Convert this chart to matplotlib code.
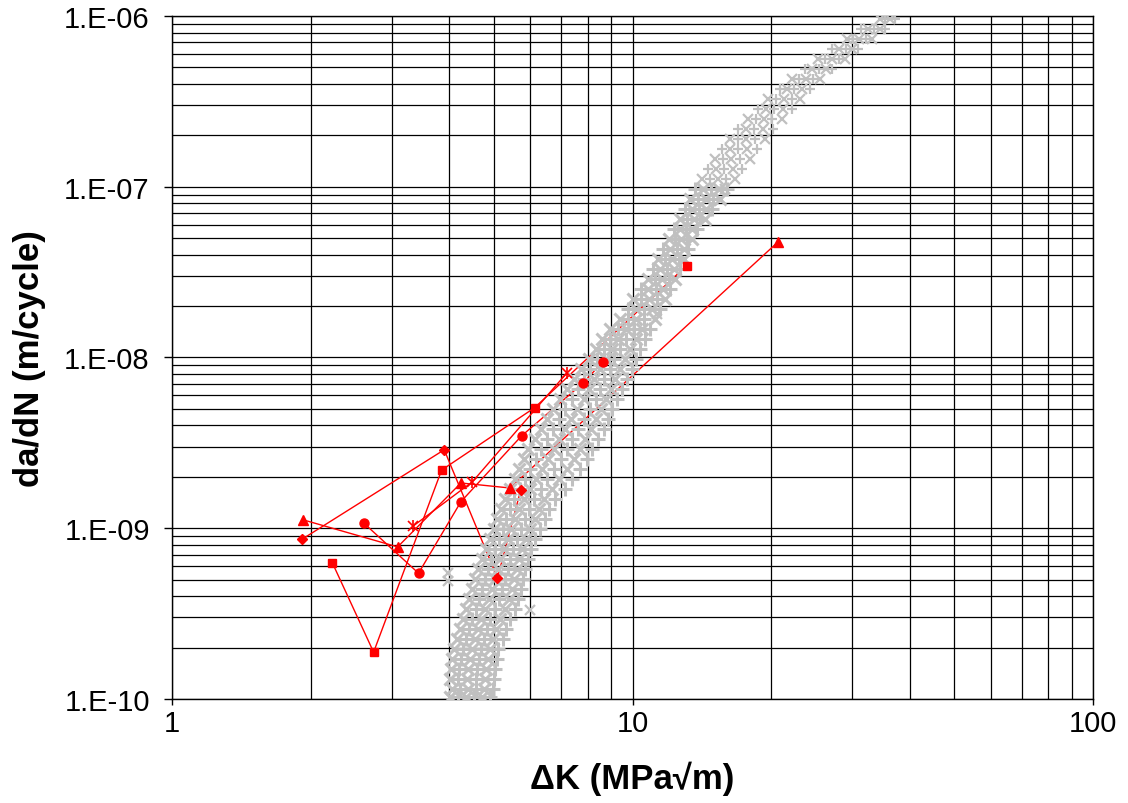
#!/usr/bin/env python3
"""Fatigue crack growth rate: short-crack data (red) against long-crack band (grey)."""

import matplotlib
matplotlib.use('Agg')
import matplotlib.pyplot as plt
from matplotlib.ticker import FixedLocator, FixedFormatter, NullFormatter, LogLocator

plt.rcParams.update({
    'font.family': ['Liberation Sans', 'DejaVu Sans'],
    'font.size': 21,
})

# --- short-crack series (ΔK in MPa√m, da/dN in m/cycle) ---
tri_dk = [1.925, 3.09, 4.24, 5.42, 20.7]
tri_rate = [1.12e-9, 7.77e-10, 1.84e-9, 1.72e-9, 4.75e-8]

circ_dk = [2.61, 3.43, 4.24, 5.74, 7.80, 8.61]
circ_rate = [1.07e-9, 5.45e-10, 1.43e-9, 3.47e-9, 7.06e-9, 9.41e-9]

sq_dk = [2.23, 2.74, 3.85, 6.13, 13.1]
sq_rate = [6.26e-10, 1.88e-10, 2.19e-9, 5.08e-9, 3.45e-8]

dia_dk = [1.92, 3.90, 5.09, 5.72]
dia_rate = [8.65e-10, 2.88e-9, 5.11e-10, 1.68e-9]

star_dk = [3.34, 4.49, 7.20]
star_rate = [1.03e-9, 1.87e-9, 8.11e-9]

# --- long-crack scatter band, read row by row (one da/dN level per row) ---
band_rate = [
    1.03e-10, 1.14e-10, 1.31e-10, 1.50e-10, 1.71e-10, 1.96e-10, 2.25e-10, 2.57e-10,
    2.94e-10, 3.37e-10, 3.85e-10, 4.41e-10, 5.04e-10, 5.77e-10, 6.61e-10, 7.56e-10,
    8.65e-10, 9.90e-10, 1.13e-9, 1.30e-9, 1.48e-9, 1.70e-9, 1.94e-9, 2.22e-9,
    2.54e-9, 2.91e-9, 3.33e-9, 3.81e-9, 4.36e-9, 4.99e-9, 5.71e-9, 6.54e-9,
    7.48e-9, 8.57e-9, 9.80e-9, 1.12e-8, 1.28e-8, 1.47e-8, 1.68e-8, 1.92e-8,
    2.20e-8, 2.52e-8, 2.88e-8, 3.30e-8, 3.77e-8, 4.32e-8, 4.94e-8, 5.66e-8,
    6.47e-8, 7.41e-8, 8.48e-8, 9.70e-8, 1.11e-7, 1.27e-7, 1.45e-7, 1.66e-7,
    1.90e-7, 2.18e-7, 2.49e-7, 2.85e-7, 3.27e-7, 3.74e-7, 4.28e-7, 4.89e-7,
    5.60e-7, 6.41e-7, 7.33e-7, 8.39e-7, 9.60e-7,
]
band_dk = [
    [4.02, 4.18, 4.35, 4.53, 4.72, 4.91],
    [4.06, 4.22, 4.39, 4.57, 4.76, 4.98],
    [4.02, 4.18, 4.37, 4.57, 4.78, 5.00],
    [4.04, 4.20, 4.39, 4.59, 4.81, 5.03],
    [4.06, 4.24, 4.44, 4.64, 4.86, 5.08],
    [4.10, 4.29, 4.48, 4.69, 4.91, 5.10],
    [4.16, 4.35, 4.55, 4.76, 4.98, 5.23],
    [4.22, 4.42, 4.62, 4.83, 5.05, 5.31],
    [4.29, 4.48, 4.69, 4.91, 5.16, 5.42],
    [4.35, 4.57, 4.78, 5.03, 5.29, 5.56],
    [4.42, 4.64, 4.88, 5.13, 5.39, 5.64],
    [4.48, 4.71, 4.95, 5.21, 5.47, 5.73],
    [4.55, 4.78, 5.03, 5.29, 5.53, 5.78],
    [4.62, 4.86, 5.10, 5.37, 5.61, 5.84],
    [4.71, 4.93, 5.16, 5.42, 5.67, 5.93],
    [4.81, 5.03, 5.26, 5.50, 5.76, 6.02],
    [4.91, 5.13, 5.37, 5.61, 5.87, 6.14],
    [5.00, 5.23, 5.45, 5.73, 5.99, 6.30],
    [5.08, 5.31, 5.56, 5.84, 6.14, 6.46],
    [5.18, 5.42, 5.67, 5.96, 6.27, 6.59],
    [5.29, 5.53, 5.81, 6.11, 6.42, 6.79],
    [5.42, 5.70, 5.99, 6.33, 6.69, 7.14],
    [5.56, 5.84, 6.17, 6.52, 6.93, 7.39],
    [5.67, 5.99, 6.36, 6.75, 7.21, 7.69],
    [5.81, 6.17, 6.55, 6.99, 7.46, 7.97],
    [5.93, 6.33, 6.75, 7.21, 7.69, 8.17],
    [6.14, 6.52, 6.93, 7.39, 7.89, 8.41],
    [6.33, 6.72, 7.14, 7.61, 8.12, 8.67],
    [6.52, 6.93, 7.35, 7.85, 8.33, 8.85],
    [6.72, 7.14, 7.57, 8.09, 8.54, 9.03],
    [6.96, 7.39, 7.85, 8.33, 8.76, 9.26],
    [7.21, 7.61, 8.05, 8.50, 8.98, 9.49],
    [7.46, 7.85, 8.25, 8.67, 9.16, 9.73],
    [7.72, 8.09, 8.50, 8.94, 9.39, 9.98],
    [8.05, 8.37, 8.76, 9.12, 9.63, 10.18],
    [8.33, 8.67, 9.03, 9.39, 9.88, 10.38],
    [8.58, 8.94, 9.30, 9.68, 10.18, 10.65],
    [8.94, 9.30, 9.68, 10.08, 10.48, 10.91],
    [9.39, 9.78, 10.18, 10.60, 11.19],
    [9.78, 10.18, 10.60, 11.02, 11.47],
    [10.03, 10.43, 10.86, 11.30, 11.76],
    [10.43, 10.81, 11.24, 11.64, 12.06],
    [10.81, 11.19, 11.58, 12.00, 12.37],
    [11.08, 11.47, 11.88, 12.31, 12.68],
    [11.36, 11.76, 12.18, 12.62, 12.94],
    [11.64, 12.06, 12.49, 12.94, 13.20],
    [12.00, 12.37, 12.75, 13.13, 13.47],
    [12.31, 12.68, 13.07, 13.47, 13.81],
    [12.68, 13.13, 13.60, 14.02, 14.37],
    [13.00, 13.47, 13.95, 14.44, 14.88],
    [13.33, 13.88, 14.44, 14.96, 15.49],
    [13.67, 14.23, 14.81, 15.41, 16.04],
    [14.16, 14.73, 15.33, 15.96, 16.70],
    [14.58, 15.18, 15.80, 16.53, 17.29],
    [15.11, 15.72, 16.36, 17.12, 18.00],
    [15.65, 16.28, 16.95, 17.73, 18.64],
    [16.28, 16.95, 17.64, 18.45, 19.40],
    [16.95, 17.64, 18.36, 19.21, 20.19],
    [17.82, 18.54, 19.30, 20.09, 21.12],
    [18.73, 19.50, 20.29, 21.23, 22.20],
    [19.69, 20.49, 21.34, 22.20, 23.11],
    [20.91, 21.65, 22.43, 23.34, 24.29],
    [22.20, 22.99, 23.81, 24.66, 25.54],
    [23.69, 24.54, 25.41, 26.31, 27.12],
    [25.29, 26.18, 27.12, 28.08, 28.94],
    [27.12, 28.08, 29.08, 29.97, 30.88],
    [29.23, 30.12, 31.03, 32.14, 33.13],
    [31.35, 32.47, 33.46, 34.47, 35.34],
    [34.47, 35.34, 36.24, 37.15],
]
# a few stray long-crack points outside the band
stray_dk = [3.98, 3.98, 5.99, 11.3, 15.9]
stray_rate = [5.5e-10, 4.9e-10, 3.3e-10, 1.8e-8, 9.7e-8]

y_ticks = [1e-10, 1e-9, 1e-8, 1e-7, 1e-6]
y_tick_labels = ['1.E-10', '1.E-09', '1.E-08', '1.E-07', '1.E-06']
x_ticks = [1, 10, 100]
x_tick_labels = ['1', '10', '100']

RED = '#FF0000'
GREY = '#C0C0C0'


def main():
    fig = plt.figure(figsize=(11.28, 8.04), dpi=100)
    ax = fig.add_axes([0.1525, 0.1294, 0.8165, 0.8495])
    ax.set_xscale('log')
    ax.set_yscale('log')
    ax.set_xlim(1, 100)
    ax.set_ylim(1e-10, 1e-6)

    # flatten band rows, alternate x / + markers; upper tail drawn lighter
    low_x, low_y, top_x, top_y = [], [], [], []
    for rate, row in zip(band_rate, band_dk):
        for dk in row:
            if rate < 1e-7:
                low_x.append(dk)
                low_y.append(rate)
            else:
                top_x.append(dk)
                top_y.append(rate)
    ax.plot(low_x[::2], low_y[::2], 'x', color=GREY, ms=8.5, mew=2.2, zorder=3)
    ax.plot(low_x[1::2], low_y[1::2], '+', color=GREY, ms=9.5, mew=2.2, zorder=3)
    ax.plot(top_x[::2], top_y[::2], 'x', color=GREY, ms=7, mew=1.6, zorder=3)
    ax.plot(top_x[1::2], top_y[1::2], '+', color=GREY, ms=7.5, mew=1.6, zorder=3)
    ax.plot(stray_dk, stray_rate, 'x', color=GREY, ms=7, mew=1.6, zorder=3)

    series = [
        (tri_dk, tri_rate, '^', 7),
        (circ_dk, circ_rate, 'o', 6.5),
        (sq_dk, sq_rate, 's', 6),
        (dia_dk, dia_rate, 'D', 5.5),
    ]
    for dk, rate, m, size in series:
        ax.plot(dk, rate, '-', color=RED, lw=1.0, zorder=2)
        ax.plot(dk, rate, m, color=RED, ms=size, mec=RED, zorder=4)
    # Excel-style star marker: an x with a vertical bar through it
    ax.plot(star_dk, star_rate, '-', color=RED, lw=1.0, zorder=2)
    ax.plot(star_dk, star_rate, 'x', color=RED, ms=7, mew=1.2, zorder=4)
    ax.plot(star_dk, star_rate, '|', color=RED, ms=9, mew=1.2, zorder=4)

    # full black log grid
    ax.grid(True, which='major', color='black', lw=0.9, zorder=1)
    ax.grid(True, which='minor', color='black', lw=0.9, zorder=1)
    ax.set_axisbelow(True)

    ax.yaxis.set_major_locator(FixedLocator(y_ticks))
    ax.yaxis.set_major_formatter(FixedFormatter(y_tick_labels))
    ax.yaxis.set_minor_locator(LogLocator(base=10, subs=range(2, 10), numticks=20))
    ax.yaxis.set_minor_formatter(NullFormatter())
    ax.xaxis.set_major_locator(FixedLocator(x_ticks))
    ax.xaxis.set_major_formatter(FixedFormatter(x_tick_labels))
    ax.xaxis.set_minor_locator(LogLocator(base=10, subs=range(2, 10), numticks=20))
    ax.xaxis.set_minor_formatter(NullFormatter())

    ax.tick_params(axis='y', which='major', direction='out', length=6, width=1, pad=10)
    ax.tick_params(axis='x', which='major', direction='out', length=4, width=1, pad=3)
    ax.tick_params(which='minor', length=0)
    for s in ax.spines.values():
        s.set_color('black')
        s.set_linewidth(1.0)

    ax.set_ylabel('da/dN (m/cycle)', fontweight='bold', fontsize=25)
    ax.yaxis.set_label_coords(-0.137, 0.5)
    ax.set_xlabel('ΔK (MPa√m)', fontweight='bold', fontsize=25)
    ax.xaxis.set_label_coords(0.5, -0.090)

    fig.savefig('out.png', dpi=100)
    plt.close(fig)


if __name__ == '__main__':
    main()
